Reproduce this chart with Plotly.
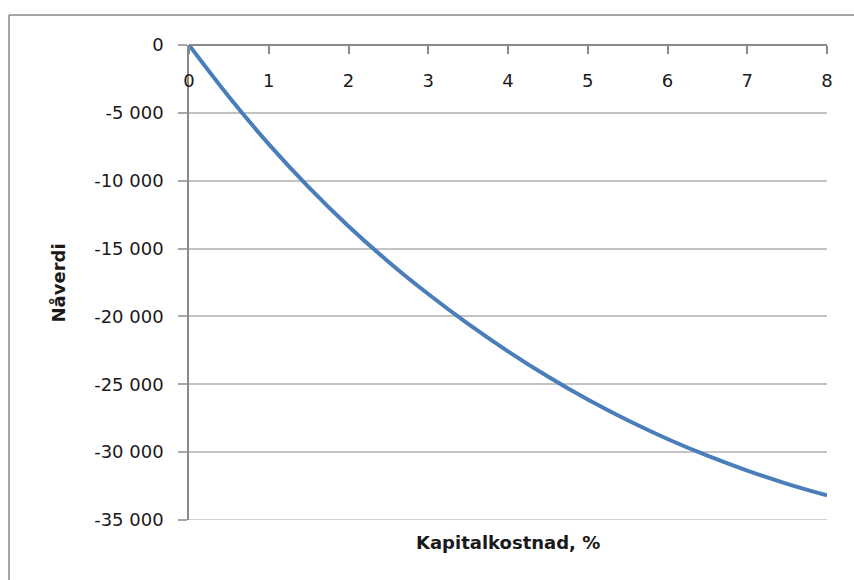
import plotly.graph_objects as go

# Net present value as a function of the cost of capital
rate_pct = [0, 0.5, 1, 1.5, 2, 2.5, 3, 3.5, 4, 4.5, 5, 5.5, 6, 6.5, 7, 7.5, 8]
npv = [0, -3810, -7300, -10470, -13350, -15965, -18350, -20550, -22570,
       -24430, -26130, -27655, -29030, -30263, -31360, -32337, -33190]

x_ticks = [0, 1, 2, 3, 4, 5, 6, 7, 8]
y_ticks = [0, -5000, -10000, -15000, -20000, -25000, -30000, -35000]
y_tick_text = ["0", "-5 000", "-10 000", "-15 000", "-20 000", "-25 000", "-30 000", "-35 000"]

axis_grey = "#898989"
grid_grey = "#c3c3c3"
text_col = "#1a1a1a"
tick_font = dict(family="DejaVu Sans", size=18, color=text_col)
title_font = dict(family="DejaVu Sans", size=18, color=text_col, weight="bold")

fig = go.Figure(
    go.Scatter(
        x=rate_pct,
        y=npv,
        mode="lines",
        line=dict(color="#4a7ebb", width=4, shape="spline", smoothing=1),
        hoverinfo="skip",
        showlegend=False,
    )
)

fig.update_layout(
    width=854,
    height=580,
    margin=dict(l=189, r=27, t=45, b=60),
    paper_bgcolor="white",
    plot_bgcolor="white",
    font=dict(family="DejaVu Sans", size=18, color=text_col),
    xaxis=dict(
        range=[0, 8],
        tickvals=x_ticks,
        ticktext=[str(v) for v in x_ticks],
        anchor="free",
        position=1,
        side="bottom",
        showline=True,
        linecolor=axis_grey,
        linewidth=1.5,
        ticks="outside",
        ticklen=8,
        tickwidth=1.5,
        tickcolor=axis_grey,
        ticklabelstandoff=12,
        showgrid=False,
        zeroline=False,
        tickfont=tick_font,
    ),
    yaxis=dict(
        range=[-35000, 0],
        tickvals=y_ticks,
        ticktext=y_tick_text,
        showline=True,
        linecolor=axis_grey,
        linewidth=1.5,
        ticks="outside",
        ticklen=9,
        tickwidth=1.5,
        tickcolor="#a8a8a8",
        ticklabelstandoff=11,
        showgrid=True,
        gridcolor=grid_grey,
        gridwidth=1.5,
        zeroline=False,
        tickfont=tick_font,
    ),
    annotations=[
        dict(
            text="Kapitalkostnad, %",
            xref="paper", yref="paper",
            x=0.5, y=-0.0484,
            xanchor="center", yanchor="middle",
            showarrow=False,
            font=title_font,
        ),
        dict(
            text="Nåverdi",
            xref="paper", yref="paper",
            x=-0.2038, y=0.5,
            xanchor="center", yanchor="middle",
            textangle=-90,
            showarrow=False,
            font=title_font,
        ),
    ],
    shapes=[
        # lowest gridline sits on the edge of the plot area
        dict(type="line", xref="paper", yref="y", x0=0, x1=1,
             y0=y_ticks[-1], y1=y_ticks[-1], line=dict(color=grid_grey, width=1.5),
             layer="below"),
        # chart frame: top and left edges
        dict(type="line", xref="paper", yref="paper", x0=-0.2821, x1=1.2,
             y0=1.0632, y1=1.0632, line=dict(color=axis_grey, width=1.5)),
        dict(type="line", xref="paper", yref="paper", x0=-0.2821, x1=-0.2821,
             y0=1.0632, y1=-0.2, line=dict(color=axis_grey, width=1.5)),
    ],
)

fig.write_html("out.html")
